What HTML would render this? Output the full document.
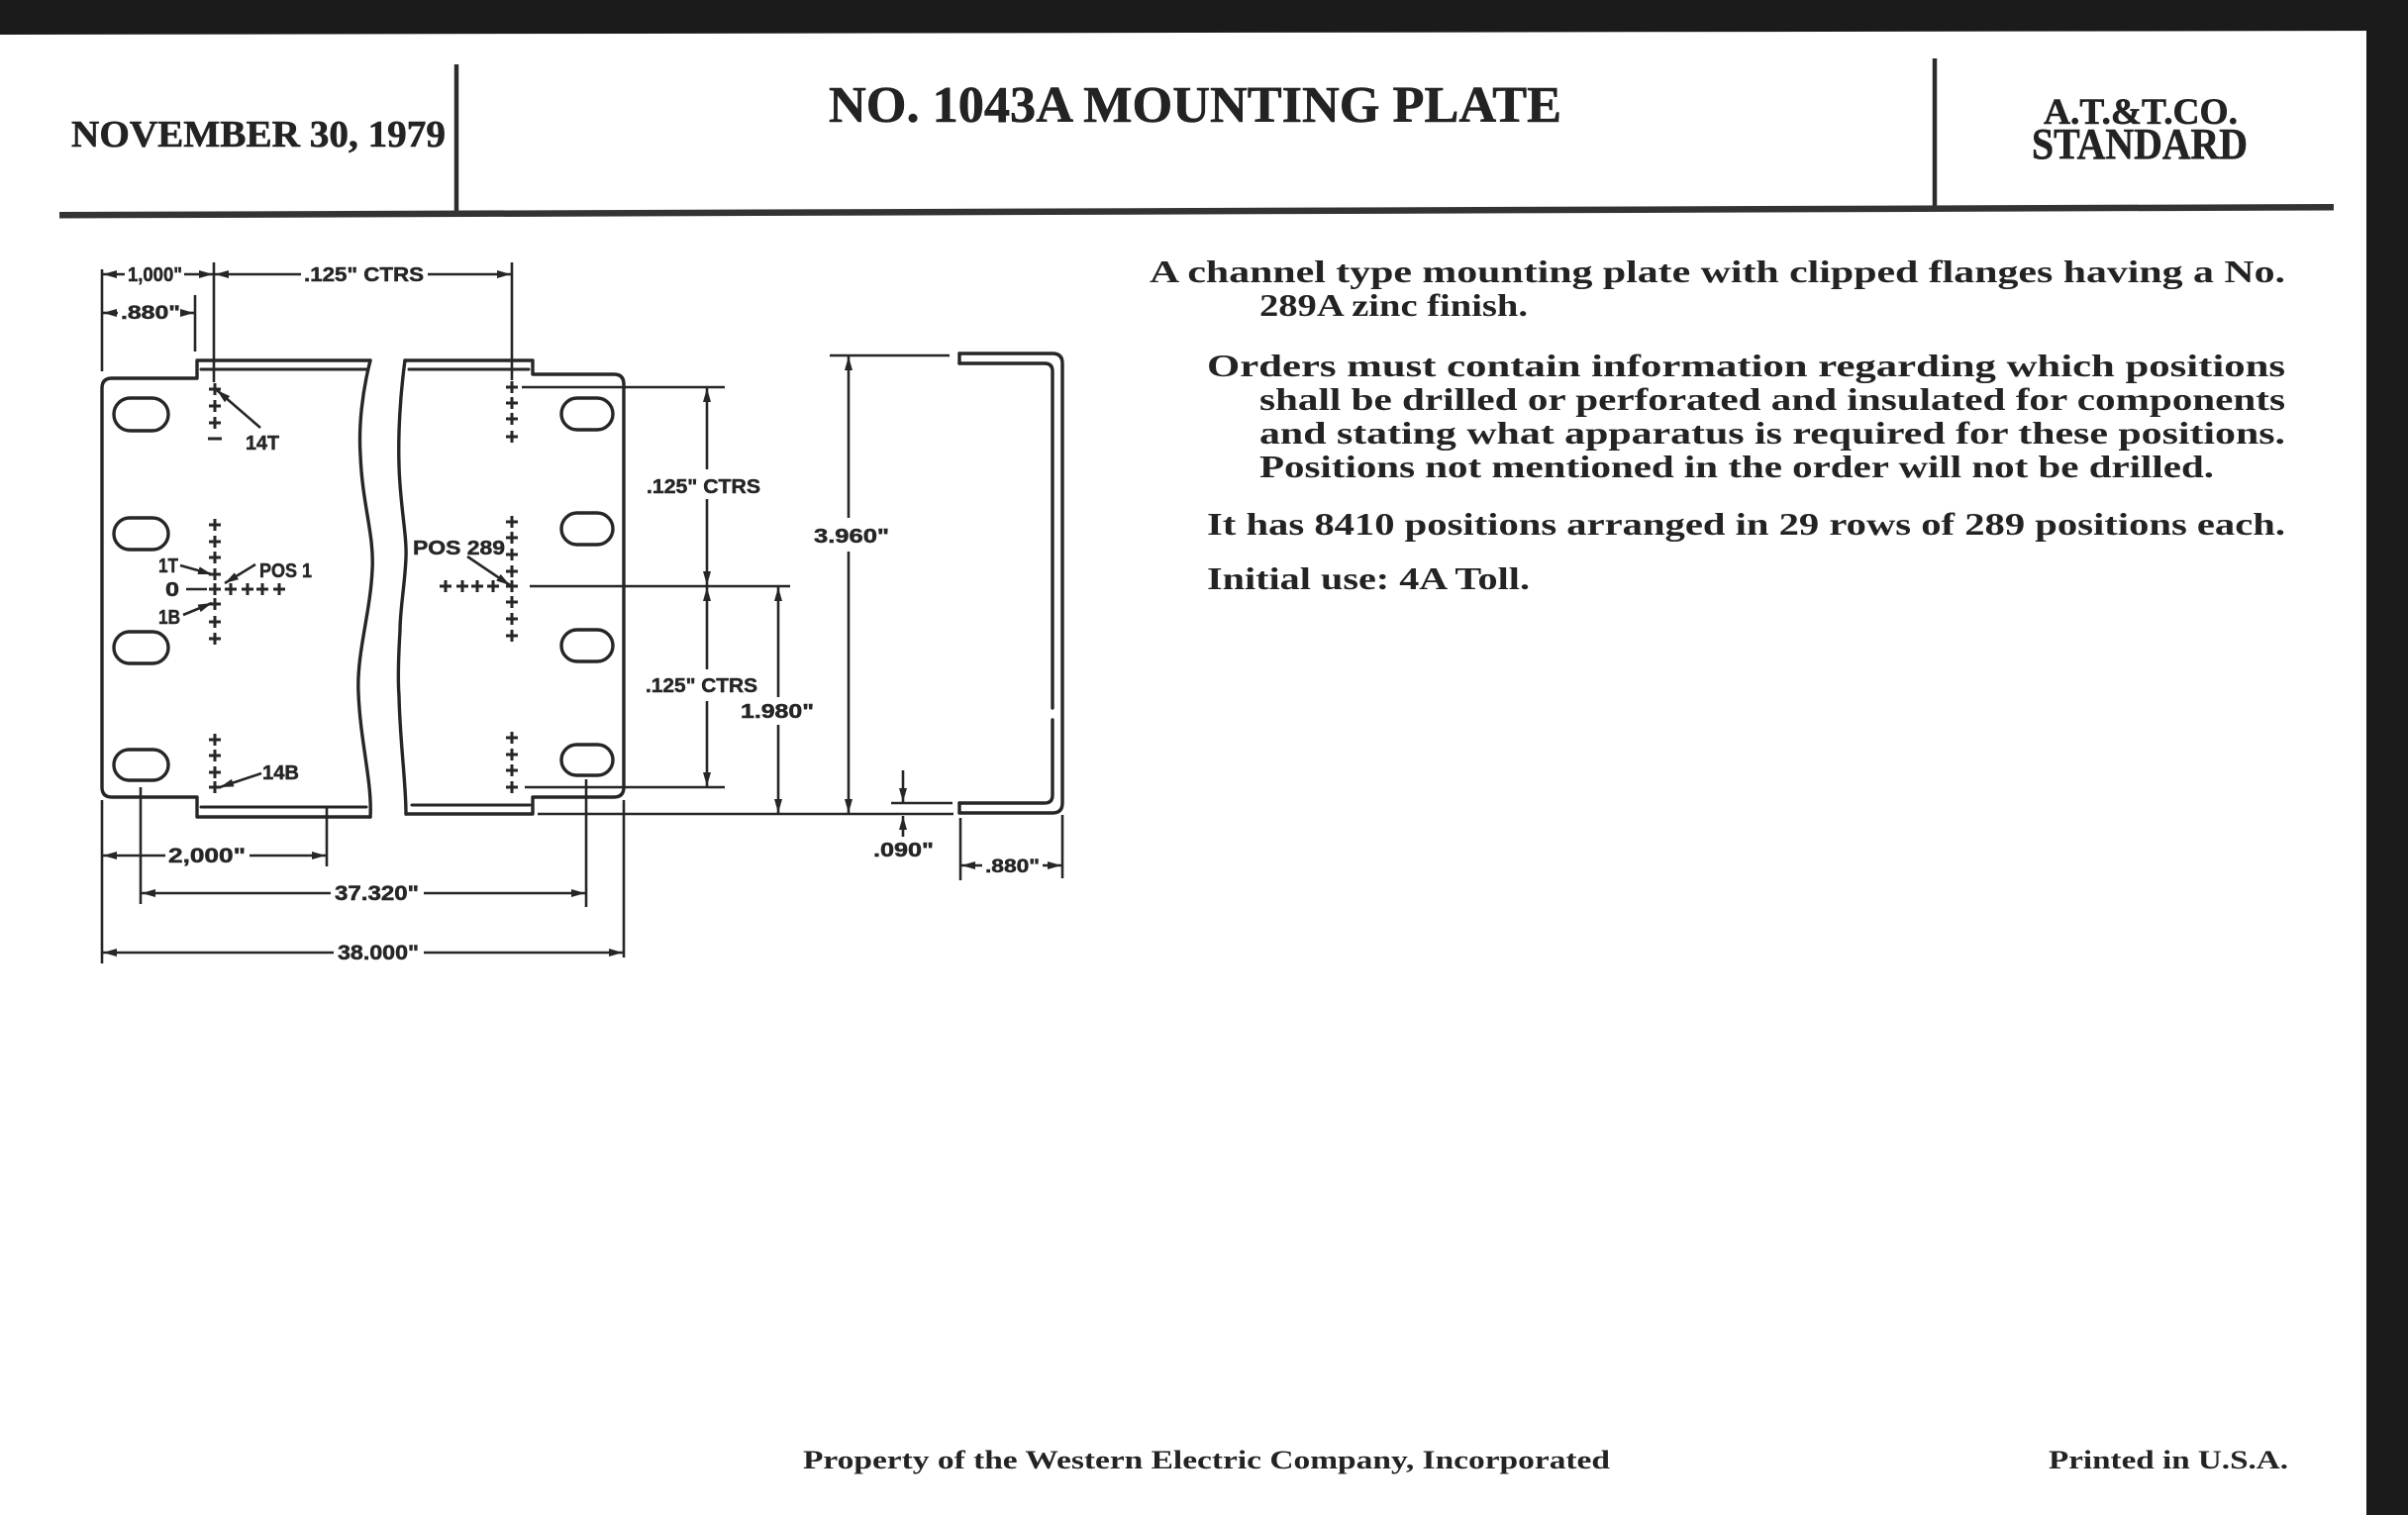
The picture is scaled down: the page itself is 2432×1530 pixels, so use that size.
<!DOCTYPE html>
<html>
<head>
<meta charset="utf-8">
<style>
html,body{margin:0;padding:0;background:#fff;}
body{width:2432px;height:1530px;overflow:hidden;}
svg{display:block;}
.serif{font-family:"Liberation Serif",serif;font-weight:bold;fill:#232323;}
.hdr{stroke:#232323;stroke-width:0.6;}
.sans{font-family:"Liberation Sans",sans-serif;font-weight:bold;fill:#262626;stroke:#262626;stroke-width:0.5;}
</style>
</head>
<body>
<svg width="2432" height="1530" viewBox="0 0 2432 1530" xmlns="http://www.w3.org/2000/svg">
<defs>
<marker id="a" viewBox="0 0 14 8" refX="14" refY="4" markerWidth="14" markerHeight="8" markerUnits="userSpaceOnUse" orient="auto-start-reverse">
<path d="M0,0 L14,4 L0,8 z" fill="#262626"/>
</marker>
</defs>
<rect width="2432" height="1530" fill="#fff"/>
<polygon points="0,0 2432,0 2432,31 0,35" fill="#1b1b1b"/>
<rect x="2390" y="0" width="42" height="1530" fill="#1b1b1b"/>

<!-- header -->
<line x1="461" y1="65" x2="461" y2="215" stroke="#2b2b2b" stroke-width="4.5"/>
<line x1="1954" y1="59" x2="1954" y2="210" stroke="#2b2b2b" stroke-width="4.5"/>
<polygon points="60,214 2357,206 2357,212.5 60,220.5" fill="#333"/>

<text class="serif hdr" x="72" y="148" font-size="38" textLength="378" lengthAdjust="spacingAndGlyphs">NOVEMBER 30, 1979</text>
<text class="serif hdr" x="837" y="123" font-size="52" textLength="740" lengthAdjust="spacingAndGlyphs">NO. 1043A MOUNTING PLATE</text>
<text class="serif hdr" x="2064" y="125" font-size="37" textLength="196" lengthAdjust="spacingAndGlyphs">A.T.&amp;T.CO.</text>
<text class="serif hdr" x="2052" y="160" font-size="44" textLength="218" lengthAdjust="spacingAndGlyphs">STANDARD</text>

<!-- body text -->
<g class="serif" font-size="32">
<text x="1161" y="285" textLength="1147" lengthAdjust="spacingAndGlyphs">A channel type mounting plate with clipped flanges having a No.</text>
<text x="1272" y="319" textLength="271" lengthAdjust="spacingAndGlyphs">289A zinc finish.</text>
<text x="1219" y="380" textLength="1089" lengthAdjust="spacingAndGlyphs">Orders must contain information regarding which positions</text>
<text x="1272" y="414" textLength="1036" lengthAdjust="spacingAndGlyphs">shall be drilled or perforated and insulated for components</text>
<text x="1272" y="448" textLength="1036" lengthAdjust="spacingAndGlyphs">and stating what apparatus is required for these positions.</text>
<text x="1272" y="482" textLength="964" lengthAdjust="spacingAndGlyphs">Positions not mentioned in the order will not be drilled.</text>
<text x="1219" y="540" textLength="1089" lengthAdjust="spacingAndGlyphs">It has 8410 positions arranged in 29 rows of 289 positions each.</text>
<text x="1219" y="595" textLength="326" lengthAdjust="spacingAndGlyphs">Initial use: 4A Toll.</text>
</g>

<!-- footer -->
<text class="serif" x="811" y="1483" font-size="26" textLength="815" lengthAdjust="spacingAndGlyphs">Property of the Western Electric Company, Incorporated</text>
<text class="serif" x="2069" y="1483" font-size="26" textLength="242" lengthAdjust="spacingAndGlyphs">Printed in U.S.A.</text>

<!-- ============ DRAWING ============ -->
<g fill="none" stroke="#262626" stroke-width="3.4" stroke-linejoin="round" stroke-linecap="round">
<!-- left piece -->
<path d="M374,364 L199,364 L199,382 L113,382 Q103,382 103,392 L103,795 Q103,805 113,805 L199,805 L199,825 L374,825"/>
<path d="M374,364 C366,395 362,430 364,460 C366,510 378,540 376,575 C374,620 360,660 362,700 C364,750 376,790 374,825"/>
<line x1="203" y1="373" x2="370" y2="373" stroke-width="3"/>
<line x1="203" y1="815" x2="370" y2="815" stroke-width="3"/>
<!-- right piece -->
<path d="M409,364 L538,364 L538,378 L620,378 Q630,378 630,388 L630,795 Q630,805 620,805 L538,805 L538,822 L410,822"/>
<path d="M409,364 C404,400 402,440 403,470 C404,510 411,540 410,563 C409,590 404,615 404,637 C402,670 402,690 403,703 C404,750 410,790 410,822"/>
<line x1="413" y1="373" x2="534" y2="373" stroke-width="3"/>
<line x1="416" y1="813" x2="535" y2="813" stroke-width="3"/>

<!-- holes -->
<rect x="115" y="402" width="55" height="33" rx="16.5"/>
<rect x="115" y="523" width="55" height="32" rx="16"/>
<rect x="115" y="638" width="55" height="32" rx="16"/>
<rect x="115" y="757" width="55" height="31" rx="15.5"/>
<rect x="567" y="402" width="52" height="32" rx="16"/>
<rect x="567" y="518" width="52" height="32" rx="16"/>
<rect x="567" y="636" width="52" height="32" rx="16"/>
<rect x="567" y="752" width="52" height="31" rx="15.5"/>

<!-- side channel -->
<path d="M969,357 L1063,357 Q1073,357 1073,367 L1073,811 Q1073,821 1063,821 L969,821"/>
<path d="M969,367 L1055,367 Q1063,367 1063,375 L1063,715 M1063,727 L1063,803 Q1063,811 1055,811 L969,811"/>
<line x1="969" y1="357" x2="969" y2="367"/>
<line x1="969" y1="811" x2="969" y2="821"/>
</g>

<!-- plus marks -->
<g stroke="#262626" stroke-width="3" fill="none">
<path d="
M211,393h12M217,387v12
M211,410h12M217,404v12
M211,427h12M217,421v12
M210,443h14
M211,530h12M217,524v12
M211,547h12M217,541v12
M211,563h12M217,557v12
M211,580h12M217,574v12
M211,595h12M217,589v12
M211,610h12M217,604v12
M211,628h12M217,622v12
M211,645h12M217,639v12
M227,595h12M233,589v12
M244,595h12M250,589v12
M259,595h12M265,589v12
M276,595h12M282,589v12
M211,747h12M217,741v12
M211,763h12M217,757v12
M211,780h12M217,774v12
M211,795h12M217,789v12
M511,391h12M517,385v12
M511,407h12M517,401v12
M511,423h12M517,417v12
M511,441h12M517,435v12
M511,527h12M517,521v12
M511,543h12M517,537v12
M511,560h12M517,554v12
M511,577h12M517,571v12
M511,592h12M517,586v12
M511,608h12M517,602v12
M511,625h12M517,619v12
M511,642h12M517,636v12
M444,592h12M450,586v12
M461,592h12M467,586v12
M476,592h12M482,586v12
M492,592h12M498,586v12
M511,745h12M517,739v12
M511,762h12M517,756v12
M511,778h12M517,772v12
M511,795h12M517,789v12
"/>
</g>

<!-- dimension & extension lines -->
<g stroke="#262626" stroke-width="2.6" fill="none">
<line x1="103" y1="272" x2="103" y2="375"/>
<line x1="216" y1="265" x2="216" y2="386"/>
<line x1="197" y1="298" x2="197" y2="355"/>
<line x1="517" y1="265" x2="517" y2="384"/>
<line x1="126" y1="277" x2="104" y2="277" marker-end="url(#a)"/>
<line x1="186" y1="277" x2="215" y2="277" marker-end="url(#a)"/>
<line x1="304" y1="277" x2="217" y2="277" marker-end="url(#a)"/>
<line x1="432" y1="277" x2="516" y2="277" marker-end="url(#a)"/>
<line x1="119" y1="316" x2="104" y2="316" marker-end="url(#a)"/>
<line x1="184" y1="316" x2="196" y2="316" marker-end="url(#a)"/>

<line x1="103" y1="808" x2="103" y2="973"/>
<line x1="142" y1="795" x2="142" y2="913"/>
<line x1="330" y1="815" x2="330" y2="875"/>
<line x1="592" y1="787" x2="592" y2="916"/>
<line x1="630" y1="808" x2="630" y2="967"/>
<line x1="167" y1="864" x2="104" y2="864" marker-end="url(#a)"/>
<line x1="252" y1="864" x2="329" y2="864" marker-end="url(#a)"/>
<line x1="334" y1="902" x2="143" y2="902" marker-end="url(#a)"/>
<line x1="428" y1="902" x2="591" y2="902" marker-end="url(#a)"/>
<line x1="337" y1="962" x2="104" y2="962" marker-end="url(#a)"/>
<line x1="428" y1="962" x2="629" y2="962" marker-end="url(#a)"/>

<line x1="527" y1="391" x2="732" y2="391"/>
<line x1="535" y1="592" x2="798" y2="592"/>
<line x1="530" y1="795" x2="732" y2="795"/>
<line x1="543" y1="822" x2="963" y2="822"/>
<line x1="838" y1="359" x2="959" y2="359"/>
<line x1="714" y1="474" x2="714" y2="392" marker-end="url(#a)"/>
<line x1="714" y1="504" x2="714" y2="591" marker-end="url(#a)"/>
<line x1="714" y1="676" x2="714" y2="593" marker-end="url(#a)"/>
<line x1="714" y1="708" x2="714" y2="794" marker-end="url(#a)"/>
<line x1="786" y1="704" x2="786" y2="593" marker-end="url(#a)"/>
<line x1="786" y1="732" x2="786" y2="821" marker-end="url(#a)"/>
<line x1="857" y1="523" x2="857" y2="360" marker-end="url(#a)"/>
<line x1="857" y1="557" x2="857" y2="821" marker-end="url(#a)"/>
<line x1="900" y1="811" x2="962" y2="811"/>
<line x1="912" y1="778" x2="912" y2="810" marker-end="url(#a)"/>
<line x1="912" y1="845" x2="912" y2="824" marker-end="url(#a)"/>
<line x1="970" y1="826" x2="970" y2="889"/>
<line x1="1073" y1="823" x2="1073" y2="887"/>
<line x1="992" y1="874" x2="971" y2="874" marker-end="url(#a)"/>
<line x1="1053" y1="874" x2="1072" y2="874" marker-end="url(#a)"/>

<line x1="263" y1="432" x2="219" y2="394" marker-end="url(#a)"/>
<line x1="182" y1="571" x2="214" y2="580" marker-end="url(#a)"/>
<line x1="258" y1="570" x2="227" y2="589" marker-end="url(#a)"/>
<line x1="188" y1="595" x2="209" y2="595"/>
<line x1="185" y1="621" x2="214" y2="609" marker-end="url(#a)"/>
<line x1="264" y1="781" x2="222" y2="795" marker-end="url(#a)"/>
<line x1="472" y1="562" x2="515" y2="591" marker-end="url(#a)"/>
</g>

<!-- drawing labels -->
<g class="sans">
<text x="129" y="284" font-size="20" textLength="55" lengthAdjust="spacingAndGlyphs">1,000"</text>
<text x="307" y="284" font-size="20" textLength="121" lengthAdjust="spacingAndGlyphs">.125" CTRS</text>
<text x="122" y="322" font-size="19" textLength="60" lengthAdjust="spacingAndGlyphs">.880"</text>
<text x="248" y="454" font-size="20" textLength="34" lengthAdjust="spacingAndGlyphs">14T</text>
<text x="160" y="578" font-size="20" textLength="20" lengthAdjust="spacingAndGlyphs">1T</text>
<text x="262" y="583" font-size="20" textLength="53" lengthAdjust="spacingAndGlyphs">POS 1</text>
<text x="167" y="602" font-size="20" textLength="14" lengthAdjust="spacingAndGlyphs">0</text>
<text x="160" y="630" font-size="20" textLength="22" lengthAdjust="spacingAndGlyphs">1B</text>
<text x="265" y="787" font-size="20" textLength="37" lengthAdjust="spacingAndGlyphs">14B</text>
<text x="417" y="560" font-size="20" textLength="93" lengthAdjust="spacingAndGlyphs">POS 289</text>
<text x="653" y="498" font-size="20" textLength="115" lengthAdjust="spacingAndGlyphs">.125" CTRS</text>
<text x="822" y="548" font-size="20" textLength="76" lengthAdjust="spacingAndGlyphs">3.960"</text>
<text x="652" y="699" font-size="20" textLength="113" lengthAdjust="spacingAndGlyphs">.125" CTRS</text>
<text x="748" y="725" font-size="20" textLength="74" lengthAdjust="spacingAndGlyphs">1.980"</text>
<text x="882" y="865" font-size="20" textLength="61" lengthAdjust="spacingAndGlyphs">.090"</text>
<text x="995" y="881" font-size="19" textLength="55" lengthAdjust="spacingAndGlyphs">.880"</text>
<text x="170" y="871" font-size="21" textLength="78" lengthAdjust="spacingAndGlyphs">2,000"</text>
<text x="338" y="909" font-size="21" textLength="85" lengthAdjust="spacingAndGlyphs">37.320"</text>
<text x="341" y="969" font-size="21" textLength="82" lengthAdjust="spacingAndGlyphs">38.000"</text>
</g>
</svg>
</body>
</html>
